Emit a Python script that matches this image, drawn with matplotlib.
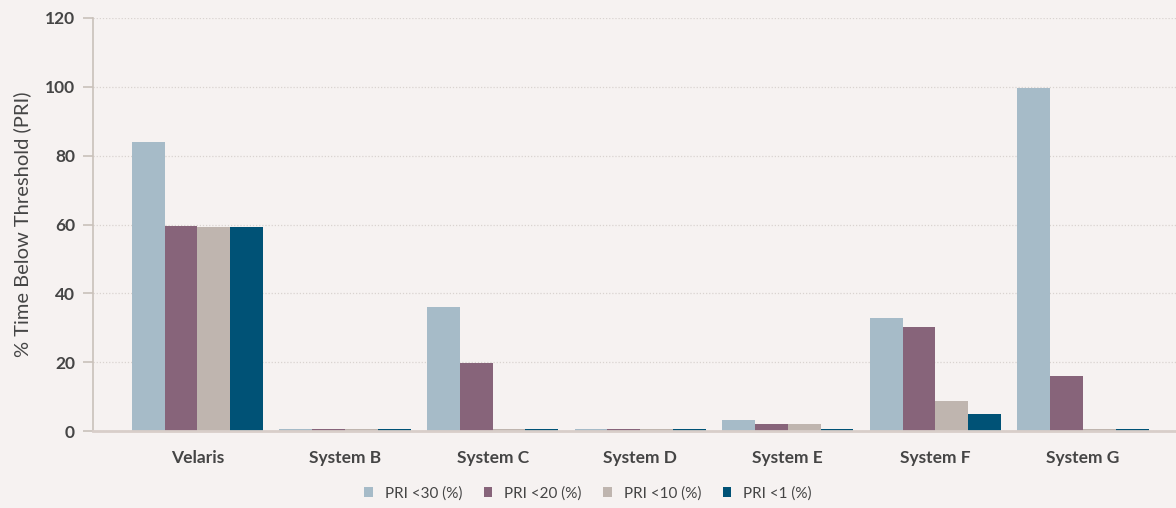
import numpy as np
import matplotlib
matplotlib.use("Agg")
import matplotlib.pyplot as plt

# Datos del gráfico
sistemas = ["Velaris", "System B", "System C", "System D", "System E", "System F", "System G"]
series = ["PRI <30 (%)", "PRI <20 (%)", "PRI <10 (%)", "PRI <1 (%)"]
pri_30 = [84.0, 0.5, 36.0, 0.5, 3.3, 32.9, 99.8]
pri_20 = [59.7, 0.5, 19.9, 0.5, 2.1, 30.3, 16.1]
pri_10 = [59.4, 0.5, 0.5, 0.5, 2.1, 8.8, 0.5]
pri_1 = [59.4, 0.5, 0.5, 0.5, 0.5, 5.0, 0.5]
colores = ["#a6bbc8", "#87647a", "#bfb5af", "#005276"]

fondo = "#f6f2f1"
texto = "#454545"

plt.rcParams['font.family'] = ['Lato', 'DejaVu Sans']

fig = plt.figure(figsize=(11.76, 5.08), dpi=100, facecolor=fondo)
ax = fig.add_axes([93 / 1176, 1 - 431 / 508, 1 - 93 / 1176, (431 - 18) / 508])
ax.set_facecolor(fondo)

x = np.arange(len(sistemas))
ancho = 0.222
for k, (valores, nombre) in enumerate(zip([pri_30, pri_20, pri_10, pri_1], series)):
    ax.bar(x + (k - 1.5) * ancho, valores, ancho, color=colores[k], label=nombre, zorder=3)

ax.set_xlim(-0.707, 6.63)
ax.set_ylim(0, 120)
ax.set_yticks(range(0, 121, 20))
ax.set_xticks(x)
ax.set_xticklabels(sistemas, fontsize=12.5, fontweight="bold", color=texto)
for t in ax.get_yticklabels():
    t.set_fontsize(12.5)
    t.set_fontweight("bold")
    t.set_color(texto)

ax.grid(axis="y", linestyle=(0, (1, 1.5)), color="#d9d3d0", linewidth=0.9, zorder=0)
for lado in ["top", "right"]:
    ax.spines[lado].set_visible(False)
ax.spines["left"].set_color("#c9c1ba")
ax.spines["left"].set_linewidth(1.2)
ax.spines["bottom"].set_color("#d8cec9")
ax.spines["bottom"].set_linewidth(2)
ax.spines["bottom"].set_zorder(4)
ax.tick_params(axis="y", length=7, width=1.2, color="#c9c1ba", pad=6)
ax.tick_params(axis="x", length=0, pad=14)

ax.set_ylabel("% Time Below Threshold (PRI)", fontsize=14.5, color=texto, labelpad=10)

fig.legend(loc="lower center", bbox_to_anchor=(0.5, -0.012), ncol=4, frameon=False,
           fontsize=11, handlelength=0.55, handleheight=0.55, handletextpad=0.8,
           columnspacing=1.4, labelcolor=texto)

fig.savefig("out.png", dpi=100, facecolor=fondo)
